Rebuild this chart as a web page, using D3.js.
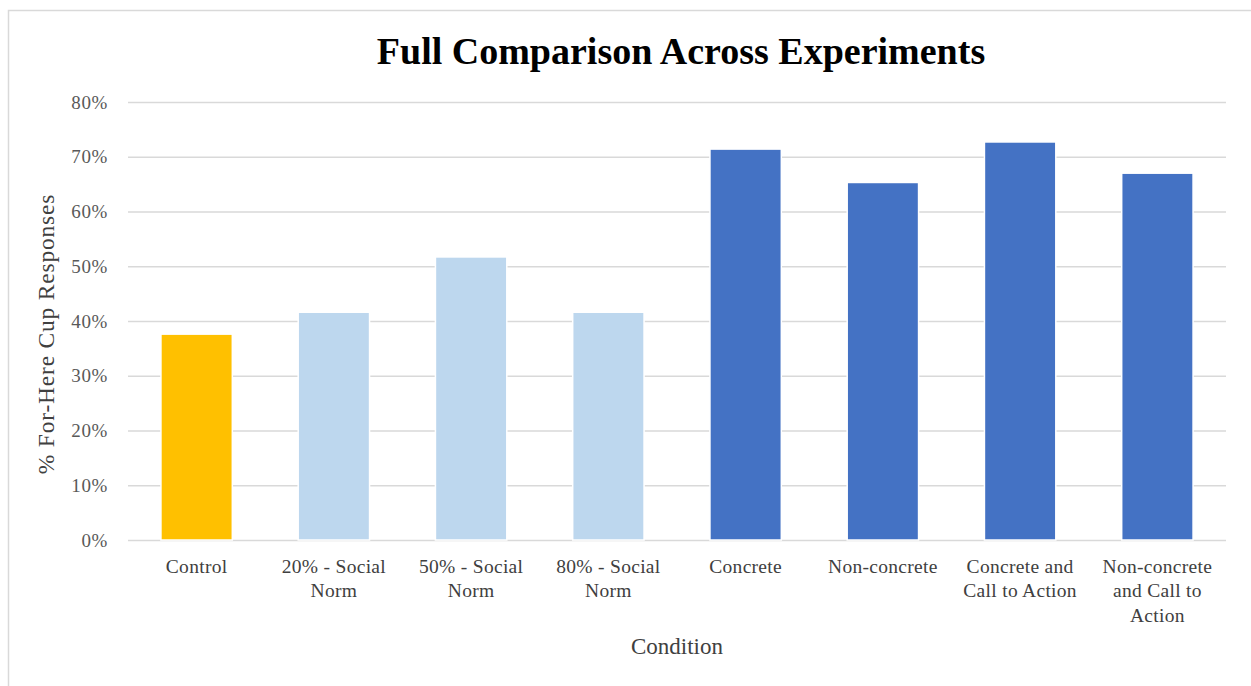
<!DOCTYPE html>
<html><head><meta charset="utf-8">
<script src="https://cdn.jsdelivr.net/npm/d3@7"></script>
<style>body{margin:0;background:#fff}svg{display:block}</style>
</head><body>
<svg id="c" width="1251" height="686"></svg>
<script>
const categories = ["Control","20% - Social Norm","50% - Social Norm","80% - Social Norm","Concrete","Non-concrete","Concrete and Call to Action","Non-concrete and Call to Action"];
const categoryLines = [["Control"],["20% - Social","Norm"],["50% - Social","Norm"],["80% - Social","Norm"],["Concrete"],["Non-concrete"],["Concrete and","Call to Action"],["Non-concrete","and Call to","Action"]];
const values = [0.376, 0.416, 0.517, 0.416, 0.714, 0.653, 0.727, 0.670];
const groups = ["control","norm","norm","norm","concrete","concrete","concrete","concrete"];
const yTicks = [0,0.1,0.2,0.3,0.4,0.5,0.6,0.7,0.8];
const colorMap = {control:"#FFC000", norm:"#BDD7EE", concrete:"#4472C4"};
const font = "'Liberation Serif','DejaVu Serif',serif";
const textColor = "#404040";

const svg = d3.select("#c");
svg.append("rect").attr("x",8.5).attr("y",10.5).attr("width",1260).attr("height",700)
  .attr("fill","#fff").attr("stroke","#D9D9D9").attr("stroke-width",1.5);

const mLeft=128, mRight=1226, mTop=102, mBottom=540;
const x = d3.scaleBand().domain(categories).range([mLeft,mRight]).paddingInner(0.48).paddingOuter(0.24);
const y = d3.scaleLinear().domain([0,0.8]).range([mBottom,mTop]);

// gridlines
const yAxis = d3.axisLeft(y).tickValues(yTicks).tickFormat(d3.format(".0%")).tickSize(-(mRight-mLeft)).tickPadding(20);
const gy = svg.append("g").attr("transform",`translate(${mLeft},0)`).call(yAxis);
gy.select(".domain").remove();
gy.selectAll(".tick line").attr("stroke","#D9D9D9").attr("stroke-width",1.6);
gy.selectAll(".tick text").attr("font-family",font).attr("font-size",19).attr("fill","#595959").attr("letter-spacing",0.6);

// bars
svg.append("g").selectAll("rect").data(values).join("rect")
  .attr("x",(d,i)=>x(categories[i]))
  .attr("y",d=>y(d))
  .attr("width",x.bandwidth())
  .attr("height",d=>y(0)-y(d))
  .attr("fill",(d,i)=>colorMap[groups[i]])
  .attr("stroke","#fff").attr("stroke-width",1.5);

// x labels
const xl = svg.append("g");
categoryLines.forEach((lines,i)=>{
  const cx = x(categories[i]) + x.bandwidth()/2;
  const t = xl.append("text").attr("text-anchor","middle").attr("font-family",font).attr("font-size",19.5).attr("fill",textColor).attr("letter-spacing",0.3);
  lines.forEach((l,j)=>t.append("tspan").attr("x",cx).attr("y",573+j*24.3).text(l));
});

// titles
svg.append("text").attr("x",681).attr("y",64).attr("text-anchor","middle")
  .attr("font-family",font).attr("font-weight","bold").attr("font-size",38).attr("fill","#000")
  .text("Full Comparison Across Experiments");
svg.append("text").attr("x",677).attr("y",654).attr("text-anchor","middle")
  .attr("font-family",font).attr("font-size",23).attr("fill",textColor).text("Condition");
svg.append("text").attr("transform","translate(54,334) rotate(-90)").attr("text-anchor","middle")
  .attr("font-family",font).attr("font-size",23.5).attr("fill",textColor).attr("letter-spacing",0.8).text("% For-Here Cup Responses");
</script>
</body></html>
